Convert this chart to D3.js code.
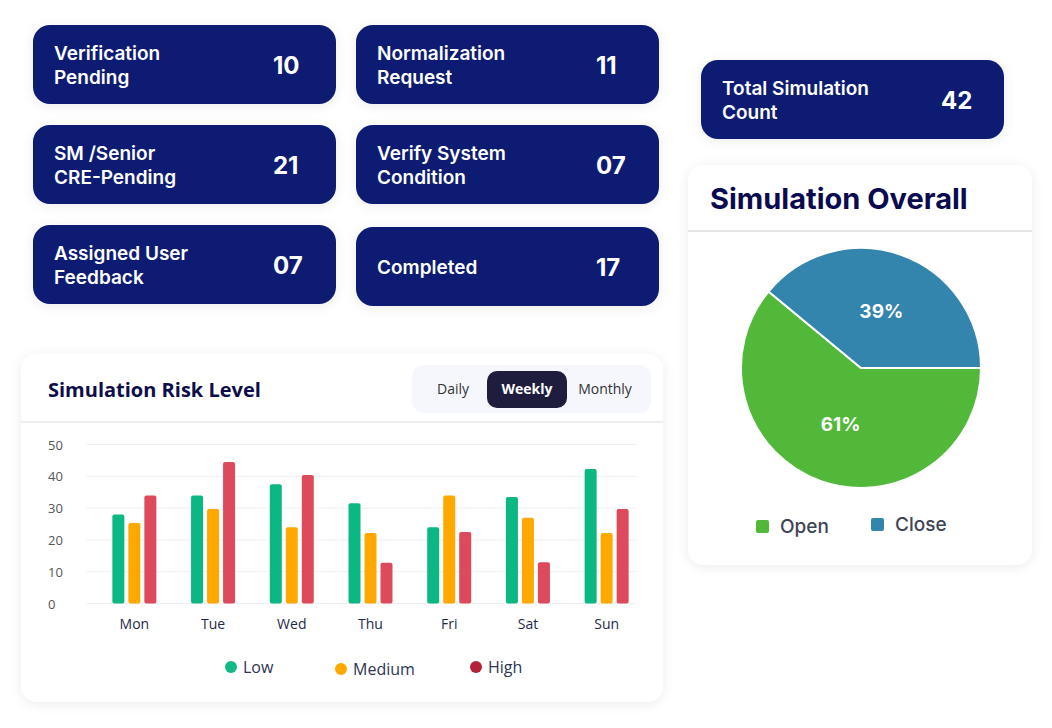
<!DOCTYPE html>
<html>
<head>
<meta charset="utf-8">
<script src="https://cdn.jsdelivr.net/npm/d3@7"></script>
<style>
  html, body { margin: 0; padding: 0; background: #fff; }
  svg { display: block; }
</style>
</head>
<body>
<div id="chart"></div>
<script>
// status cards
const cardLabels = [
  ["Verification", "Pending"], ["Normalization", "Request"],
  ["SM /Senior", "CRE-Pending"], ["Verify System", "Condition"],
  ["Assigned User", "Feedback"], ["Completed"]
];
const cardCounts = ["10", "11", "21", "07", "07", "17"];
const totalLabel = ["Total Simulation", "Count"];
const totalCount = "42";

// risk level bars
const days = ["Mon", "Tue", "Wed", "Thu", "Fri", "Sat", "Sun"];
const lowValues = [28, 34, 37.5, 31.5, 24, 33.5, 42.3];
const mediumValues = [25.3, 29.7, 24, 22.2, 34, 27, 22.2];
const highValues = [34, 44.5, 40.4, 12.8, 22.5, 13, 29.7];
const riskSeries = ["Low", "Medium", "High"];
const yTicks = [0, 10, 20, 30, 40, 50];
const periods = ["Daily", "Weekly", "Monthly"];

// overall pie
const pieLabels = ["Open", "Close"];
const pieValues = [61, 39];

const width = 1052, height = 728;
const navy = "#0a1a72";

const svg = d3.select("#chart").append("svg")
  .attr("width", width)
  .attr("height", height);

const defs = svg.append("defs");
defs.append("filter").attr("id", "shadow")
  .attr("x", "-20%").attr("y", "-30%").attr("width", "140%").attr("height", "160%")
  .append("feDropShadow")
  .attr("dx", 0).attr("dy", 2).attr("stdDeviation", 6)
  .attr("flood-color", "#000").attr("flood-opacity", 0.08);

// ---- cards ----
const cardW = 303, cardH = 79;
const cardPos = [
  [33, 25], [356, 25], [33, 125], [356, 125], [33, 225], [356, 227]
];

function drawCard(x, y, lines, count) {
  const g = svg.append("g").attr("transform", `translate(${x},${y})`);
  g.append("rect")
    .attr("width", cardW).attr("height", cardH)
    .attr("rx", 17)
    .attr("fill", navy)
    .attr("filter", "url(#shadow)");
  const t = g.append("text")
    .attr("font-family", "Inter, sans-serif")
    .attr("font-size", 19)
    .attr("font-weight", 600)
    .attr("fill", "#fff");
  const lh = 24;
  const first = cardH / 2 + 7 - (lines.length - 1) * lh / 2;
  lines.forEach((s, i) => {
    t.append("tspan").attr("x", 21).attr("y", first + i * lh).text(s);
  });
  g.append("text")
    .attr("x", 240).attr("y", cardH / 2 + 9)
    .attr("font-family", "Inter, sans-serif")
    .attr("font-size", 24)
    .attr("font-weight", 700)
    .attr("fill", "#fff")
    .text(count);
}

cardLabels.forEach((lines, i) => drawCard(cardPos[i][0], cardPos[i][1], lines, cardCounts[i]));
drawCard(701, 60, totalLabel, totalCount);

// ---- risk level card ----
const bar = svg.append("g");
bar.append("rect")
  .attr("x", 21).attr("y", 354).attr("width", 642).attr("height", 348)
  .attr("rx", 16).attr("fill", "#fff")
  .attr("filter", "url(#shadow)");
bar.append("line")
  .attr("x1", 21).attr("x2", 663).attr("y1", 422).attr("y2", 422)
  .attr("stroke", "#eeeef0").attr("stroke-width", 2);
bar.append("text")
  .attr("x", 48).attr("y", 397)
  .attr("font-family", "'Open Sans', sans-serif")
  .attr("font-size", 20).attr("font-weight", 700)
  .attr("fill", "#0d0d4a")
  .text("Simulation Risk Level");

// period toggle
bar.append("rect")
  .attr("x", 412).attr("y", 365).attr("width", 239).attr("height", 48)
  .attr("rx", 12).attr("fill", "#f5f7fc");
bar.append("rect")
  .attr("x", 487).attr("y", 371).attr("width", 80).attr("height", 37)
  .attr("rx", 10).attr("fill", "#1f1d3d");
const periodX = [453, 527, 605];
periods.forEach((p, i) => {
  bar.append("text")
    .attr("x", periodX[i]).attr("y", 394)
    .attr("text-anchor", "middle")
    .attr("font-family", "'Open Sans', sans-serif")
    .attr("font-size", 14)
    .attr("font-weight", p === "Weekly" ? 700 : 500)
    .attr("fill", p === "Weekly" ? "#fff" : "#333")
    .text(p);
});

const x = d3.scaleBand().domain(days).range([95, 646]);
const y = d3.scaleLinear().domain([0, 50]).range([603.5, 444.5]);
const barW = 12, barStep = 16;
const riskColors = ["#0bb783", "#ffa800", "#dc4a5c"];
const legendColors = ["#12b886", "#ffa800", "#b5213a"];

bar.append("g").selectAll("line")
  .data(yTicks).join("line")
  .attr("x1", 87).attr("x2", 637)
  .attr("y1", d => y(d)).attr("y2", d => y(d))
  .attr("stroke", "#eeeeee").attr("stroke-width", 1);

bar.append("g").selectAll("text")
  .data(yTicks).join("text")
  .attr("x", 48).attr("y", d => y(d) + 5)
  .attr("font-family", "'Open Sans', sans-serif")
  .attr("font-size", 13)
  .attr("fill", "#555")
  .text(d => d);

const seriesValues = [lowValues, mediumValues, highValues];
const groups = bar.append("g").selectAll("g")
  .data(days).join("g")
  .attr("transform", d => `translate(${x(d) + x.bandwidth() / 2},0)`);

groups.selectAll("rect")
  .data((d, i) => seriesValues.map((vals, s) => ({ s, v: vals[i] })))
  .join("rect")
  .attr("x", d => (d.s - 1) * barStep - barW / 2)
  .attr("y", d => y(d.v))
  .attr("width", barW)
  .attr("height", d => y(0) - y(d.v))
  .attr("rx", 2)
  .attr("fill", d => riskColors[d.s]);

groups.append("text")
  .attr("y", 629)
  .attr("text-anchor", "middle")
  .attr("font-family", "'Open Sans', sans-serif")
  .attr("font-size", 14).attr("font-weight", 500)
  .attr("fill", "#1e2a4a")
  .text(d => d);

const legendX = [231, 341, 476];
const legendY = [667, 669, 667];
riskSeries.forEach((s, i) => {
  bar.append("circle")
    .attr("cx", legendX[i]).attr("cy", legendY[i]).attr("r", 6)
    .attr("fill", legendColors[i]);
  bar.append("text")
    .attr("x", legendX[i] + 12).attr("y", legendY[i] + 6)
    .attr("font-family", "'Open Sans', sans-serif")
    .attr("font-size", 16).attr("font-weight", 500)
    .attr("fill", "#2d3552")
    .text(s);
});

// ---- pie card ----
const pc = svg.append("g");
pc.append("rect")
  .attr("x", 688).attr("y", 165).attr("width", 344).attr("height", 400)
  .attr("rx", 16).attr("fill", "#fff")
  .attr("filter", "url(#shadow)");
pc.append("line")
  .attr("x1", 688).attr("x2", 1032).attr("y1", 231).attr("y2", 231)
  .attr("stroke", "#e6e6e8").attr("stroke-width", 2);
pc.append("text")
  .attr("x", 710).attr("y", 209)
  .attr("font-family", "Inter, sans-serif")
  .attr("font-size", 29).attr("font-weight", 700)
  .attr("fill", "#0a0a50")
  .text("Simulation Overall");

const pieColors = ["#52b83a", "#3385ad"];
const pie = d3.pie().sort(null)
  .startAngle(Math.PI / 2).endAngle(Math.PI / 2 + 2 * Math.PI);
const arcs = pie(pieValues);
const R = 120;
const arc = d3.arc().innerRadius(0).outerRadius(R);
const labelArc = d3.arc().innerRadius(R * 0.5).outerRadius(R * 0.5);

const pg = pc.append("g").attr("transform", "translate(861,368)");
pg.selectAll("path")
  .data(arcs).join("path")
  .attr("d", arc)
  .attr("fill", (d, i) => pieColors[i])
  .attr("stroke", "#fff").attr("stroke-width", 2);
pg.selectAll("text")
  .data(arcs).join("text")
  .attr("transform", d => `translate(${labelArc.centroid(d)})`)
  .attr("dy", "0.35em")
  .attr("text-anchor", "middle")
  .attr("font-family", "Inter, sans-serif")
  .attr("font-size", 19).attr("font-weight", 700)
  .attr("fill", "#fff")
  .text(d => d.data + "%");

const pieLegX = [756, 871];
const pieLegY = [520, 518];
pieLabels.forEach((s, i) => {
  pc.append("rect")
    .attr("x", pieLegX[i]).attr("y", pieLegY[i])
    .attr("width", 13).attr("height", 13).attr("rx", 2)
    .attr("fill", pieColors[i]);
  pc.append("text")
    .attr("x", pieLegX[i] + 24).attr("y", pieLegY[i] + 13)
    .attr("font-family", "Inter, sans-serif")
    .attr("font-size", 19).attr("font-weight", 500)
    .attr("fill", "#3d4455")
    .text(s);
});
</script>
</body>
</html>
